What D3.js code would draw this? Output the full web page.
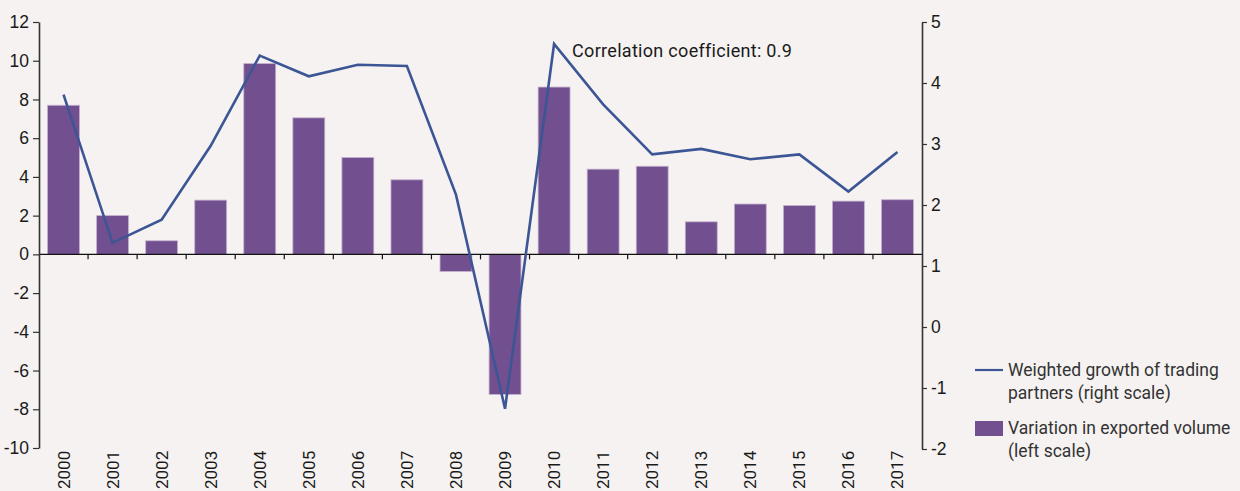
<!DOCTYPE html>
<html>
<head>
<meta charset="utf-8">
<script src="https://d3js.org/d3.v7.min.js"></script>
<style>
  html, body { margin: 0; padding: 0; background: #f5f2f1; }
  svg { display: block; font-family: "Roboto", sans-serif; }
</style>
</head>
<body>
<div id="chart"></div>
<script>
const years = ["2000","2001","2002","2003","2004","2005","2006","2007","2008","2009","2010","2011","2012","2013","2014","2015","2016","2017"];
const exportVolume = [7.7, 2.0, 0.7, 2.8, 9.85, 7.05, 5.0, 3.85, -0.88, -7.23, 8.64, 4.4, 4.55, 1.68, 2.6, 2.52, 2.75, 2.82];
const partnerGrowth = [3.81, 1.38, 1.76, 2.97, 4.45, 4.11, 4.30, 4.28, 2.17, -1.34, 4.64, 3.65, 2.83, 2.92, 2.75, 2.83, 2.22, 2.87];
const leftTicks = [12, 10, 8, 6, 4, 2, 0, -2, -4, -6, -8, -10];
const rightTicks = [5, 4, 3, 2, 1, 0, -1, -2];
const annotation = "Correlation coefficient: 0.9";
const legendLine = ["Weighted growth of trading", "partners (right scale)"];
const legendBar = ["Variation in exported volume", "(left scale)"];

const styles = {
  bar: { fill: "#724f8f", stroke: "#c3afcd" },
  line: { stroke: "#3c5595", width: 2.6 },
  axis: "#333",
  text: "#1a1a1a",
  font: 17.5
};

const width = 1240, height = 491;
const margin = { top: 22, right: 318, bottom: 43, left: 39 };

const svg = d3.select("#chart").append("svg")
  .attr("width", width)
  .attr("height", height);

const x = d3.scaleBand()
  .domain(years)
  .range([margin.left, width - margin.right])
  .paddingInner(0.35)
  .paddingOuter(0.175);

const yL = d3.scaleLinear()
  .domain([-10, 12])
  .range([height - margin.bottom, margin.top]);

const yR = d3.scaleLinear()
  .domain([-2, 5])
  .range([height - margin.bottom + 1, margin.top]);

// plain hyphen for negatives, as in the original
const fmt = d => String(d);

// bars
svg.selectAll(".bar")
  .data(years)
  .enter().append("rect")
  .attr("class", "bar")
  .attr("x", d => x(d))
  .attr("y", (d, i) => yL(Math.max(0, exportVolume[i])))
  .attr("width", x.bandwidth())
  .attr("height", (d, i) => Math.abs(yL(exportVolume[i]) - yL(0)))
  .attr("fill", styles.bar.fill)
  .attr("stroke", styles.bar.stroke)
  .attr("stroke-width", 0.8);

// zero line with ticks between categories
const x0 = width - margin.right;
svg.append("line")
  .attr("x1", margin.left).attr("x2", x0)
  .attr("y1", yL(0)).attr("y2", yL(0))
  .attr("stroke", "#111").attr("stroke-width", 1.4);

const step = x.step();
svg.selectAll(".xtick")
  .data(years.slice(1))
  .enter().append("line")
  .attr("x1", d => x(d) - step * 0.175)
  .attr("x2", d => x(d) - step * 0.175)
  .attr("y1", yL(0)).attr("y2", yL(0) + 5)
  .attr("stroke", "#111").attr("stroke-width", 1.2);

// line
const line = d3.line()
  .x((d, i) => x(years[i]) + x.bandwidth() / 2)
  .y(d => yR(d));

svg.append("path")
  .datum(partnerGrowth)
  .attr("fill", "none")
  .attr("stroke", styles.line.stroke)
  .attr("stroke-width", styles.line.width)
  .attr("stroke-linejoin", "miter")
  .attr("d", line);

// left axis
const axL = svg.append("g")
  .attr("transform", `translate(${margin.left},0)`)
  .call(d3.axisLeft(yL).tickValues(leftTicks).tickFormat(fmt).tickSize(6).tickSizeOuter(0).tickPadding(4));

// right axis
const axR = svg.append("g")
  .attr("transform", `translate(${x0},0)`)
  .call(d3.axisRight(yR).tickValues(rightTicks).tickFormat(fmt).tickSize(5).tickSizeOuter(0).tickPadding(4));

[axL, axR].forEach(g => {
  g.select(".domain").attr("stroke", styles.axis).attr("stroke-width", 1.6);
  g.selectAll(".tick line").attr("stroke", styles.axis).attr("stroke-width", 1.2);
  g.selectAll(".tick text")
    .attr("fill", styles.text)
    .style("font-size", styles.font + "px");
});

// year labels, rotated
svg.selectAll(".year")
  .data(years)
  .enter().append("text")
  .attr("class", "year")
  .attr("transform", d => `translate(${x(d) + x.bandwidth() / 2 + 6},${height - 2}) rotate(-90)`)
  .attr("fill", styles.text)
  .style("font-size", "17px")
  .text(d => d);

// annotation
svg.append("text")
  .attr("x", x("2010") + x.bandwidth() / 2 + 18)
  .attr("y", 57)
  .attr("fill", styles.text)
  .style("font-size", "18px")
  .style("letter-spacing", "0.3px")
  .text(annotation);

// legend
const lg = svg.append("g").attr("transform", "translate(975,0)");
lg.append("line")
  .attr("x1", 0).attr("x2", 28)
  .attr("y1", 370).attr("y2", 370)
  .attr("stroke", styles.line.stroke).attr("stroke-width", 2.2);
lg.selectAll(".l1")
  .data(legendLine)
  .enter().append("text")
  .attr("x", 33)
  .attr("y", (d, i) => 376 + i * 23)
  .attr("fill", "#333")
  .style("font-size", "17.5px")
  .text(d => d);
lg.append("rect")
  .attr("x", 0).attr("y", 421)
  .attr("width", 28).attr("height", 15)
  .attr("fill", styles.bar.fill);
lg.selectAll(".l2")
  .data(legendBar)
  .enter().append("text")
  .attr("x", 33)
  .attr("y", (d, i) => 434 + i * 23)
  .attr("fill", "#333")
  .style("font-size", "17.5px")
  .text(d => d);
</script>
</body>
</html>
